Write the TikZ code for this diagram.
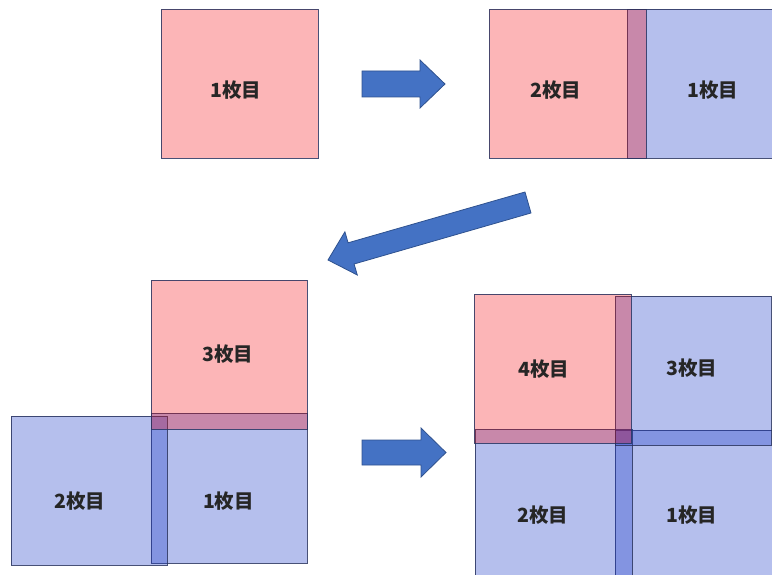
\documentclass[tikz,border=0pt]{standalone}
\usepackage{fontspec}
\newfontfamily\jp{Noto Sans CJK JP}
\definecolor{pinkbase}{RGB}{245,10,15}
\definecolor{bluebase}{RGB}{30,60,200}
\definecolor{linec}{RGB}{40,50,95}
\definecolor{arrowfill}{RGB}{68,114,196}
\definecolor{arrowline}{RGB}{47,82,143}
\begin{document}
\begin{tikzpicture}[x=1pt,y=-1pt,
  sheet/.style={draw=linec, draw opacity=0.85, line width=0.7pt, text opacity=1, inner sep=0pt, outer sep=0pt, anchor=north west},
  pinksheet/.style={sheet, fill=pinkbase, fill opacity=0.3},
  bluesheet/.style={sheet, fill=bluebase, fill opacity=0.33},
  lbl/.style={inner sep=0pt, font=\jp\bfseries\fontsize{19.5}{19.5}\selectfont, text=black!85},
  blockarrow/.style={fill=arrowfill, draw=arrowline, line width=0.8pt, line join=miter}]
\clip (0,0) rectangle (772,575);
% ---- step 1 (top left)
\node[pinksheet, minimum width=157pt, minimum height=149pt] (tl1) at (161,9) {};
\node[lbl] (tl1l) at (236,90.5) {1枚目};
% ---- step 2 (top right)
\node[bluesheet, minimum width=157pt, minimum height=149pt] (tr1) at (627,9) {};
\node[pinksheet, minimum width=157pt, minimum height=149pt] (tr2) at (489,9) {};
\node[lbl] (tr2l) at (556,90.5) {2枚目};
\node[lbl] (tr1l) at (713,90.5) {1枚目};
% ---- step 3 (bottom left)
\node[bluesheet, minimum width=156pt, minimum height=150pt] (bl1) at (151,413) {};
\node[bluesheet, minimum width=156pt, minimum height=149pt] (bl2) at (11,416) {};
\node[pinksheet, minimum width=156pt, minimum height=149pt] (bl3) at (151,280) {};
\node[lbl] (bl3l) at (228,354.5) {3枚目};
\node[lbl] (bl1l) at (228.5,501) {1枚目};
\node[lbl] (bl2l) at (80,501) {2枚目};
% ---- step 4 (bottom right)
\node[bluesheet, minimum width=157pt, minimum height=150pt] (br1) at (615,430) {};
\node[bluesheet, minimum width=157pt, minimum height=150pt] (br2) at (475,429) {};
\node[bluesheet, minimum width=156pt, minimum height=149pt] (br3) at (615,296) {};
\node[pinksheet, minimum width=157pt, minimum height=149pt] (br4) at (474,294) {};
\node[lbl] (br4l) at (544,369) {4枚目};
\node[lbl] (br3l) at (692,368) {3枚目};
\node[lbl] (br2l) at (543,515) {2枚目};
\node[lbl] (br1l) at (692,515) {1枚目};
% ---- block arrows
\coordinate (a1s1) at (362,71); \coordinate (a1h1) at (420,71); \coordinate (a1c1) at (420,60);
\coordinate (a1t) at (445,84);
\coordinate (a1c2) at (420,108); \coordinate (a1h2) at (420,97); \coordinate (a1s2) at (362,97);
\draw[blockarrow] (a1s1) -- (a1h1) -- (a1c1) -- (a1t) -- (a1c2) -- (a1h2) -- (a1s2) -- cycle;
\coordinate (a2s1) at (525,192); \coordinate (a2h1) at (348.1,242.8); \coordinate (a2c1) at (344.9,231.8);
\coordinate (a2t) at (328,260);
\coordinate (a2c2) at (357.3,275); \coordinate (a2h2) at (354.1,264); \coordinate (a2s2) at (531,213);
\draw[blockarrow] (a2s1) -- (a2h1) -- (a2c1) -- (a2t) -- (a2c2) -- (a2h2) -- (a2s2) -- cycle;
\coordinate (a3s1) at (362,440); \coordinate (a3h1) at (421,440); \coordinate (a3c1) at (421,428);
\coordinate (a3t) at (446,452.5);
\coordinate (a3c2) at (421,477); \coordinate (a3h2) at (421,465); \coordinate (a3s2) at (362,465);
\draw[blockarrow] (a3s1) -- (a3h1) -- (a3c1) -- (a3t) -- (a3c2) -- (a3h2) -- (a3s2) -- cycle;
\end{tikzpicture}
\end{document}
